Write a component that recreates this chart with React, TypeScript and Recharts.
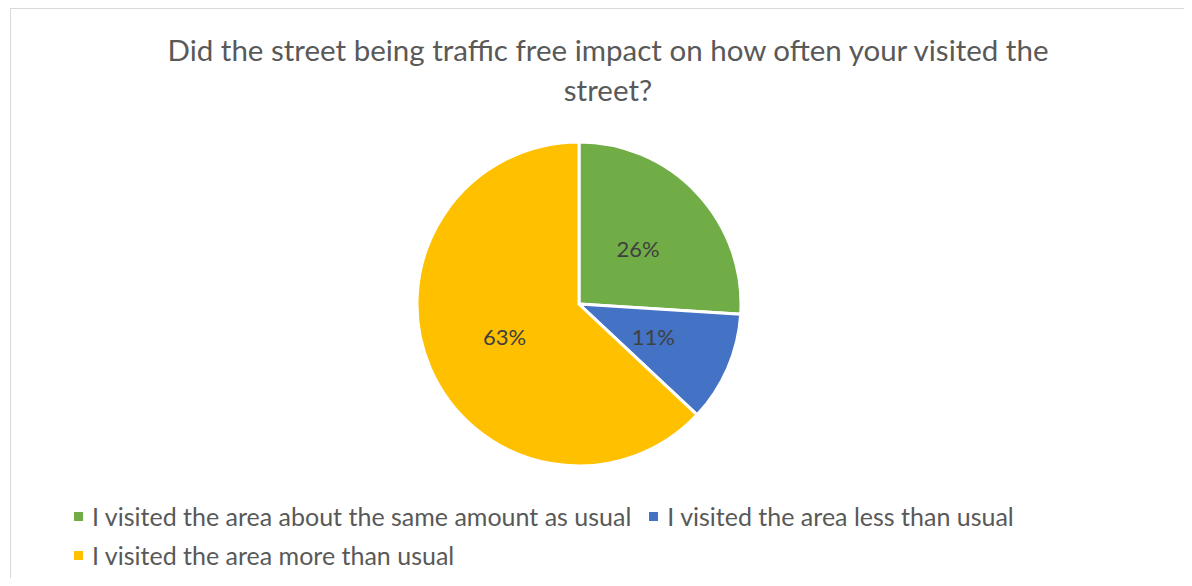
import { Cell, Legend, Pie, PieChart } from 'recharts';

const CATEGORIES = [
  'I visited the area about the same amount as usual',
  'I visited the area less than usual',
  'I visited the area more than usual',
];
const SHARES = [26, 11, 63];
const COLORS = ['#70ad47', '#4472c4', '#ffc000'];

const TITLE_LINES = ['Did the street being traffic free impact on how often your visited the', 'street?'];

const FONT = 'Lato, "Open Sans", sans-serif';

const data = CATEGORIES.map((name, i) => ({ name, value: SHARES[i] }));

const RADIAN = Math.PI / 180;

function renderLabel(props: any) {
  const { cx, cy, midAngle, outerRadius, value } = props;
  const r = outerRadius * 0.5;
  const x = cx + r * Math.cos(-midAngle * RADIAN);
  const y = cy + r * Math.sin(-midAngle * RADIAN);
  return (
    <text x={x} y={y} fill="#404040" fontSize={22} fontFamily={FONT} textAnchor="middle" dominantBaseline="central">
      {`${value}%`}
    </text>
  );
}

function LegendContent({ payload }: any) {
  return (
    <div style={{ display: 'flex', flexWrap: 'wrap', width: 980, rowGap: 9, columnGap: 18 }}>
      {(payload ?? []).map((p: any, i: number) => (
        <div key={i} style={{ display: 'flex', alignItems: 'center', fontSize: 25, color: '#595959', fontFamily: FONT, lineHeight: '30px' }}>
          <span style={{ display: 'inline-block', width: 9, height: 9, background: p.color, marginRight: 9 }} />
          {p.value}
        </div>
      ))}
    </div>
  );
}

export default function App() {
  return (
    <div style={{ position: 'relative', width: 1192, height: 586, margin: -8, background: '#fff', overflow: 'hidden' }}>
      <div style={{ position: 'absolute', left: 10, top: 8, width: 1400, height: 800, border: '1px solid #d9d9d9' }} />
      <div style={{ position: 'absolute', left: 0, top: 30, width: 1216, textAlign: 'center', fontFamily: FONT, fontSize: 29.5, color: '#595959', lineHeight: '40px' }}>
        {TITLE_LINES.map((t, i) => (
          <div key={i}>{t}</div>
        ))}
      </div>
      <div style={{ position: 'absolute', left: 0, top: 0 }}>
        <PieChart width={1192} height={586} margin={{ top: 0, right: 0, bottom: 0, left: 0 }}>
          <Pie
            data={data}
            dataKey="value"
            nameKey="name"
            cx={579}
            cy={304}
            outerRadius={162}
            startAngle={90}
            endAngle={-270}
            stroke="#ffffff"
            strokeWidth={3}
            label={renderLabel}
            labelLine={false}
            isAnimationActive={false}
          >
            {data.map((d, i) => (
              <Cell key={d.name} fill={COLORS[i]} />
            ))}
          </Pie>
          <Legend
            content={<LegendContent />}
            wrapperStyle={{ position: 'absolute', left: 74, top: 501, width: 1000 }}
          />
        </PieChart>
      </div>
    </div>
  );
}
